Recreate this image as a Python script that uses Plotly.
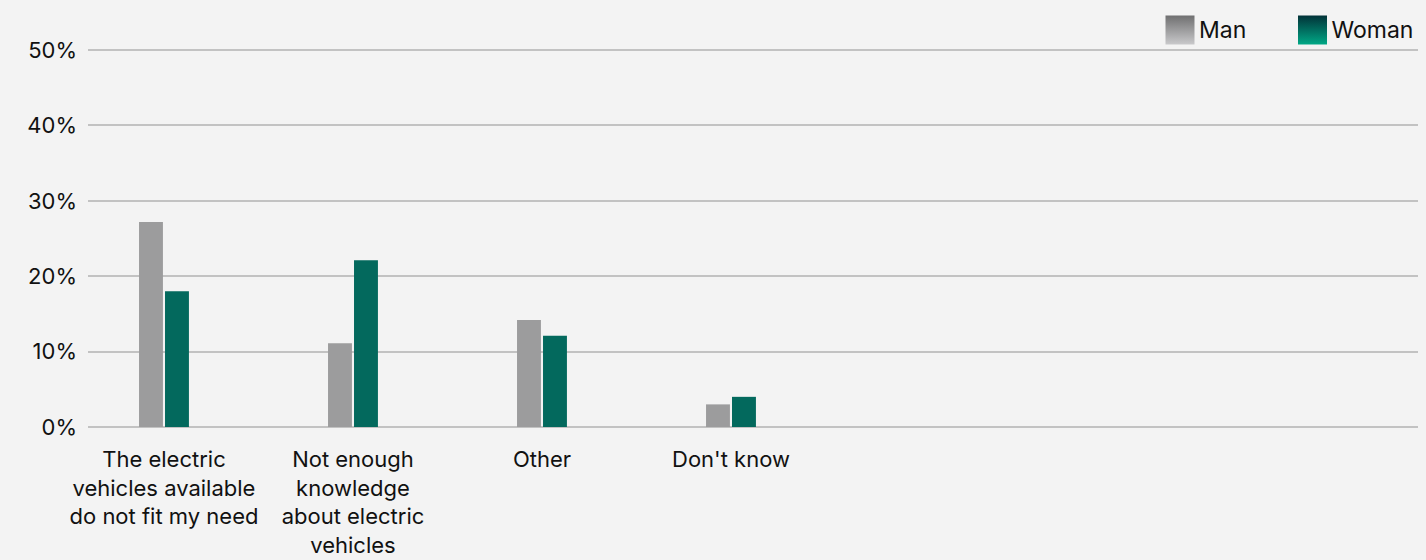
import plotly.graph_objects as go

categories = [
    "The electric<br>vehicles available<br>do not fit my need",
    "Not enough<br>knowledge<br>about electric<br>vehicles",
    "Other",
    "Don't know",
]
man = [27.2, 11.1, 14.2, 3.0]
woman = [18.0, 22.1, 12.1, 4.0]
y_ticks = [0, 10, 20, 30, 40, 50]
y_tick_text = ["0%", "10%", "20%", "30%", "40%", "50%"]
series_names = ["Man", "Woman"]

FONT = "Inter"
W, H = 1426, 560
ML, MR, MB = 88, 8, 133
PLOT_TOP = 50          # px from top where the 50% gridline sits
area_h = H - MB        # 427
px_per_unit = (area_h - PLOT_TOP) / 50.0
Y_MAX = 51.0
dom_top = (Y_MAX * px_per_unit) / area_h

fig = go.Figure()
fig.add_trace(go.Bar(x=categories, y=man, name=series_names[0], showlegend=False,
                     marker=dict(color="#9c9c9d", line=dict(width=0))))
fig.add_trace(go.Bar(x=categories, y=woman, name=series_names[1], showlegend=False,
                     marker=dict(color="#03695d", line=dict(width=0))))

# custom legend (larger swatches) on an auxiliary pixel axis over the whole area
leg_x = [1092, 1224.5]
leg_y = area_h - 30
swatch_top = ["#6f6f70", "#023238"]
swatch_bottom = ["#c9c9cb", "#00a886"]
for i in range(2):
    fig.add_trace(go.Scatter(
        x=[leg_x[i]], y=[leg_y], xaxis="x2", yaxis="y2", mode="markers",
        showlegend=False, hoverinfo="skip", cliponaxis=False,
        marker=dict(symbol="square", size=29, color=swatch_top[i], line=dict(width=0),
                    gradient=dict(type="vertical", color=swatch_bottom[i]))))
    fig.add_trace(go.Scatter(
        x=[leg_x[i] + 19], y=[leg_y - 2], xaxis="x2", yaxis="y2", mode="text",
        text=[series_names[i]], textposition="middle right", showlegend=False,
        hoverinfo="skip", cliponaxis=False, textfont=dict(size=23, color="#111111")))

fig.update_layout(
    width=W, height=H,
    margin=dict(l=ML, r=MR, t=0, b=MB, pad=0, autoexpand=False),
    paper_bgcolor="#f3f3f3", plot_bgcolor="rgba(0,0,0,0)",
    font=dict(family=FONT, size=22, color="#111111"),
    barmode="group", bargap=0.725, bargroupgap=0.08,
    showlegend=False,
    xaxis=dict(type="category", categoryorder="array", categoryarray=categories,
               range=[-0.402, 6.635], showgrid=False, showline=False, zeroline=False,
               ticks="", ticklabelstandoff=17, tickfont=dict(size=22), automargin=False),
    yaxis=dict(domain=[0, dom_top], range=[0, Y_MAX], tickvals=y_ticks, ticktext=y_tick_text,
               showgrid=True, gridcolor="#c2c2c2", gridwidth=1.5, zeroline=True,
               zerolinecolor="#c2c2c2", zerolinewidth=2, showline=False, ticks="",
               ticklabelstandoff=10, tickfont=dict(size=22), automargin=False),
    xaxis2=dict(domain=[0, 1], range=[0, W - ML - MR], visible=False, anchor="y2",
                fixedrange=True, automargin=False),
    yaxis2=dict(domain=[0, 1], range=[0, area_h], visible=False, anchor="x2",
                fixedrange=True, automargin=False),
)

fig.write_html("out.html", config={"displayModeBar": False},
               post_script="document.body.style.margin='0';document.body.style.background='#f3f3f3';")
